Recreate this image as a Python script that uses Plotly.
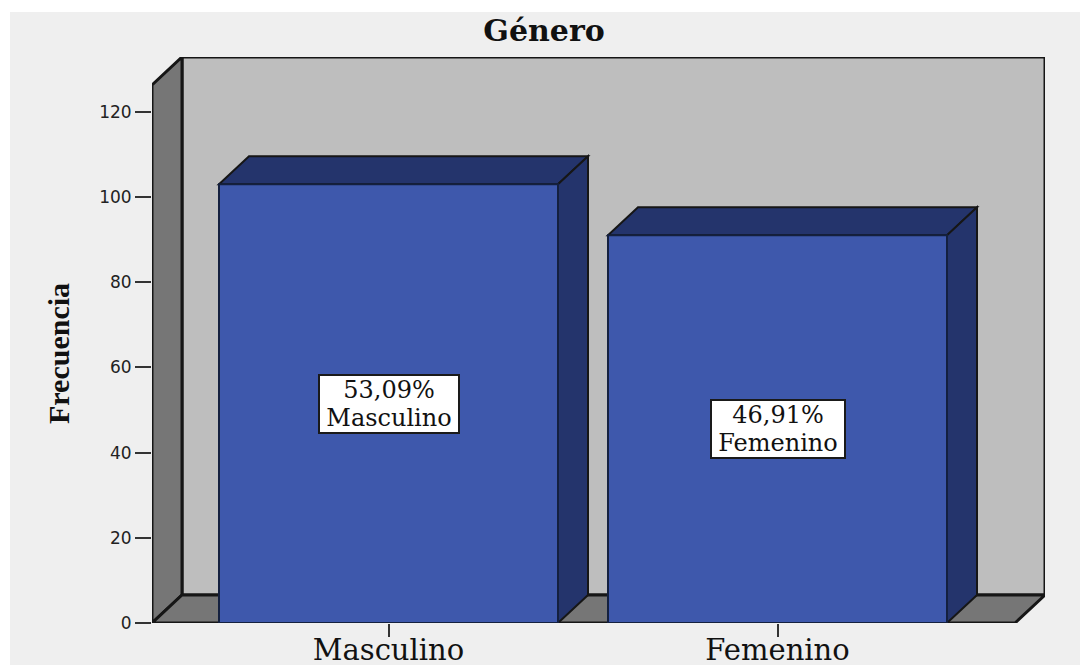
import plotly.graph_objects as go

categories = ["Masculino", "Femenino"]
frequencies = [103, 91]
percent_labels = ["53,09%", "46,91%"]
y_ticks = [0, 20, 40, 60, 80, 100, 120]

W, H = 1080, 665
L, R, T, B = 152, 1045, 57, 623          # plot area in pixels
px_per_cat = 389.0
px_per_unit = 4.26
left_cat = 388.5
dx = 30 / px_per_cat                      # depth of the 3D effect in data units
dy = 28 / px_per_unit
bar_w = 339 / px_per_cat
x0 = (L - left_cat) / px_per_cat
x1 = (R - left_cat) / px_per_cat
ymax = (B - T) / px_per_unit
fx0, fx1 = x0, x1 - dx                    # front plane
fy = ymax - dy

BG, WALL, SIDE, BAR, BAR_D, INK = "#EFEFEF", "#BEBEBE", "#767676", "#3E58AC", "#24346C", "#161616"
SERIF = "DejaVu Serif"


def poly(points, fill, width=3, color=INK):
    path = "M " + " L ".join(f"{a},{b}" for a, b in points) + " Z"
    return dict(type="path", path=path, xref="x", yref="y", fillcolor=fill,
                line=dict(color=color, width=width), layer="below")


shapes = [
    # chart background
    dict(type="rect", xref="paper", yref="paper", layer="below",
         x0=(10 - L) / (R - L), x1=(W - L) / (R - L),
         y0=(B - H) / (B - T), y1=(B - 12) / (B - T),
         fillcolor=BG, line=dict(width=0)),
    # back wall, left wall, floor
    poly([(x0 + dx, dy), (x1, dy), (x1, ymax), (x0 + dx, ymax)], WALL),
    poly([(x0, 0), (x0 + dx, dy), (x0 + dx, ymax), (x0, fy)], SIDE),
    poly([(x0, 0), (fx1, 0), (x1, dy), (x0 + dx, dy)], SIDE),
]
for i, v in enumerate(frequencies):
    a, b = i - bar_w / 2, i + bar_w / 2
    shapes.append(poly([(a, v), (b, v), (b + dx, v + dy), (a + dx, v + dy)], BAR_D, 2))
    shapes.append(poly([(b, 0), (b + dx, dy), (b + dx, v + dy), (b, v)], BAR_D, 2))

fig = go.Figure(go.Bar(
    x=[0, 1], y=frequencies, width=bar_w,
    marker=dict(color=BAR, line=dict(color="#14203F", width=2)),
    hoverinfo="skip",
))

annotations = [
    dict(x=i, y=v / 2, xref="x", yref="y", showarrow=False,
         text=f"<span style='font-size:24px'>{p}</span><br><span style='font-size:24px'>{c}</span>",
         align="center",
         font=dict(family=SERIF, size=22, color="#111111"),
         bgcolor="#FFFFFF", bordercolor="#1A1A1A", borderwidth=2,
         width=138 if i == 0 else 132, height=56, borderpad=0)
    for i, (v, p, c) in enumerate(zip(frequencies, percent_labels, categories))
]
annotations.append(dict(
    x=(58 - L) / (R - L), y=(B - 354) / (B - T), xref="paper", yref="paper",
    xanchor="center", yanchor="middle",
    showarrow=False, textangle=-90, text="<b>Frecuencia</b>",
    font=dict(family="Liberation Serif", size=30, color="#111111"),
))

fig.update_layout(
    width=W, height=H, autosize=False,
    margin=dict(l=L, r=W - R, t=T, b=H - B, pad=0),
    paper_bgcolor="#FFFFFF", plot_bgcolor="rgba(0,0,0,0)",
    showlegend=False, shapes=shapes, annotations=annotations,
    title=dict(text="<b>Género</b>", x=544 / W, xanchor="center", xref="container",
               y=1 - 30 / H, yanchor="middle", yref="container",
               font=dict(family=SERIF, size=30, color="#111111")),
    xaxis=dict(range=[x0, x1], tickvals=[0, 1], ticktext=categories, ticks="outside",
               ticklen=13, tickwidth=2, tickcolor="#333333", showgrid=False, zeroline=False,
               showline=False, tickfont=dict(family=SERIF, size=29, color="#111111"),
               ticklabelstandoff=-12, automargin=False),
    yaxis=dict(range=[0, ymax], tickvals=y_ticks, ticks="outside", ticklen=16, tickwidth=2,
               tickcolor="#333333", showgrid=False, zeroline=False, showline=False,
               tickfont=dict(family="DejaVu Sans", size=17, color="#222222"),
               automargin=False),
)
fig.write_html("out.html", config=dict(displayModeBar=False),
               post_script="document.body.style.margin='0';document.documentElement.style.overflow='hidden';")
